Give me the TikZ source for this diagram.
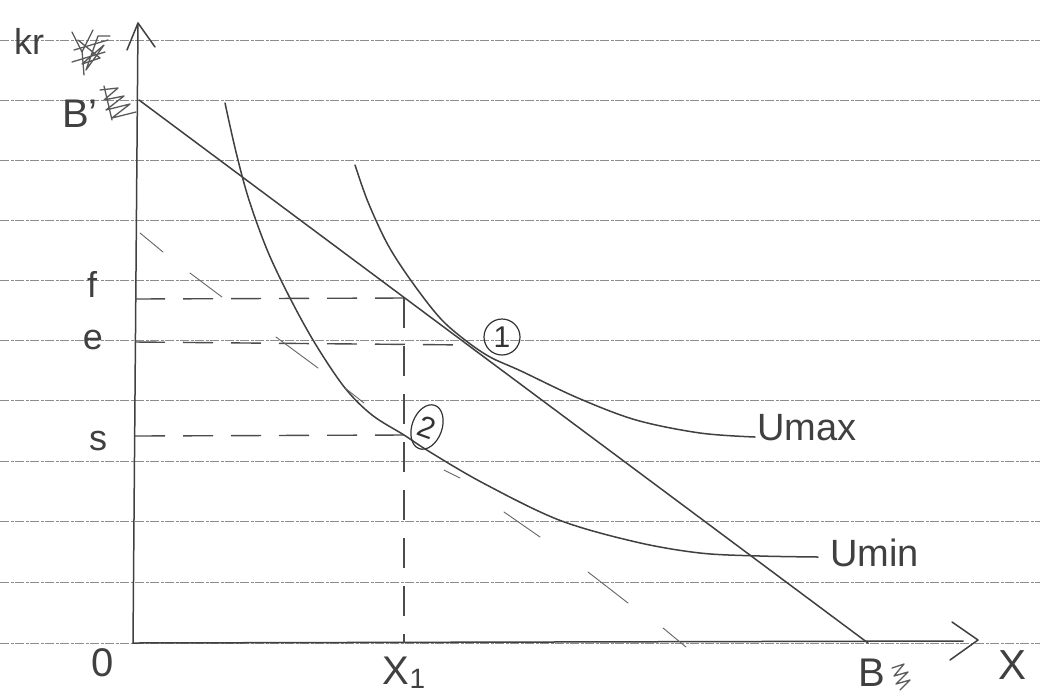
\documentclass[tikz,border=0pt]{standalone}
\usepackage{fontspec}
\setmainfont{Liberation Sans}
\usetikzlibrary{shapes.geometric}
\begin{document}
\begin{tikzpicture}[x=1pt,y=-1pt,
  pencil/.style={line width=1.5pt, draw=black!75, line cap=round, line join=round},
  thinpen/.style={line width=0.9pt, draw=black!60, line cap=round},
  scrib/.style={line width=1.3pt, draw=black!65, line cap=round, line join=round},
  ruled/.style={line width=0.7pt, draw=black!45, dash pattern=on 9pt off 1.5pt on 3pt off 1.5pt},
  guide/.style={line width=1.4pt, draw=black!70, dash pattern=on 30pt off 18pt},
  lab/.style={font=\fontsize{36}{38}\selectfont, text=black!75, inner sep=0pt},
  numc/.style={draw=black!80, line width=1.2pt, inner sep=0pt, font=\fontsize{30}{32}\selectfont, text=black!80}]
\useasboundingbox (0,0) rectangle (1040,697);
\fill[white] (0,0) rectangle (1040,697);
% ruled paper lines
\foreach \yy in {40,100,160,220,280,340,400,461,521,582,643}
  \draw[ruled] (0,\yy) -- (1040,\yy);
% key points
\coordinate (O) at (133,643);
\coordinate (Ytop) at (138,23);
\coordinate (Yw1) at (127,50);
\coordinate (Yw2) at (155,47);
\coordinate (Xaxend) at (963,641);
\coordinate (Xtip) at (978,640);
\coordinate (Xw1) at (952,622);
\coordinate (Xw2) at (950,660);
\coordinate (Bp) at (139,100);
\coordinate (B) at (868,643);
\coordinate (Fy) at (135,299);
\coordinate (Ff) at (404,298);
\coordinate (Xa) at (404,643);
\coordinate (Ey) at (135,342);
\coordinate (Ee) at (470,345);
\coordinate (Sy) at (135,436);
\coordinate (Ss) at (404,435);
% axes
\draw[pencil] (O) -- (Ytop);
\draw[pencil] (Yw1) -- (Ytop) -- (Yw2);
\draw[pencil] (O) -- (Xaxend);
\draw[pencil] (Xw1) -- (Xtip) -- (Xw2);
% guides
\draw[guide] (Fy) -- (Ff);
\draw[guide] (Ey) -- (Ee);
\draw[guide] (Sy) -- (Ss);
\draw[guide] (Ff) -- (Xa);
% budget line
\draw[pencil] (Bp) -- (B);
% indifference curves
\draw[pencil] plot[smooth, tension=0.55] coordinates {(225,103) (236,152) (249,200) (268,252) (291,300) (316,345) (345,388) (372,415) (404,435) (430,452) (483,483) (559,520) (636,542) (700,553) (760,556) (818,557)};
\draw[pencil] plot[smooth, tension=0.55] coordinates {(355,165) (368,202) (388,245) (412,282) (440,318) (465,340) (490,357) (521,371) (578,398) (636,420) (700,433) (755,437)};
% hatch marks
\draw[thinpen] (140,233) -- (163,252);
\draw[thinpen] (190,273) -- (222,297);
\draw[thinpen] (276,337) -- (318,368);
\draw[thinpen] (345,388) -- (364,403);
\draw[thinpen] (444,470) -- (460,478);
\draw[thinpen] (504,512) -- (540,537);
\draw[thinpen] (588,572) -- (628,603);
\draw[thinpen] (663,628) -- (686,647);
% circled points
\node[numc, circle, minimum size=36pt] (c1) at (502,337) {1};
\node[numc, ellipse, minimum width=30pt, minimum height=46pt, rotate=-20] (c2) at (427,427) {2};
% labels
\node[lab, anchor=base west, font=\fontsize{36}{38}\selectfont] (kr) at (14,54) {kr};
\node[lab, anchor=base west, font=\fontsize{40}{42}\selectfont] (bprime) at (62,127) {B'};
\node[lab] (flab) at (92,284) {f};
\node[lab] (elab) at (93,340) {e};
\node[lab] (slab) at (98,441) {s};
\node[lab, font=\fontsize{40}{42}\selectfont] (olab) at (103,663) {0};
\node[lab, font=\fontsize{40}{42}\selectfont, anchor=base] (x1lab) at (404,684) {X\raisebox{-4pt}{\fontsize{28}{30}\selectfont 1}};
\node[lab, anchor=base west, font=\fontsize{40}{42}\selectfont] (blab) at (858,686) {B};
\node[lab, font=\fontsize{42}{44}\selectfont] (xlab) at (1012,665) {X};
\node[lab, anchor=west, font=\fontsize{38}{40}\selectfont] (umax) at (757,428) {Umax};
\node[lab, anchor=west, font=\fontsize{38}{40}\selectfont] (umin) at (830,553) {Umin};
% crossed-out scribbles
\draw[scrib] (72,32) -- (82,52) -- (93,30);
\draw[scrib] (74,50) -- (108,40);
\draw[scrib] (72,62) -- (105,52);
\draw[scrib] (82,50) -- (84,75);
\draw[scrib] (78,40) -- (100,58) -- (82,64) -- (104,45) -- (86,70) -- (98,36) -- (110,36);
\draw[scrib] (100,90) -- (118,88) -- (104,100) -- (124,96) -- (106,110) -- (130,104) -- (112,118) -- (136,112);
\draw[scrib] (104,86) -- (112,120);
\draw[scrib] (892,668) -- (904,664) -- (894,676) -- (908,672) -- (896,684) -- (910,680) -- (900,690);
\end{tikzpicture}
\end{document}
